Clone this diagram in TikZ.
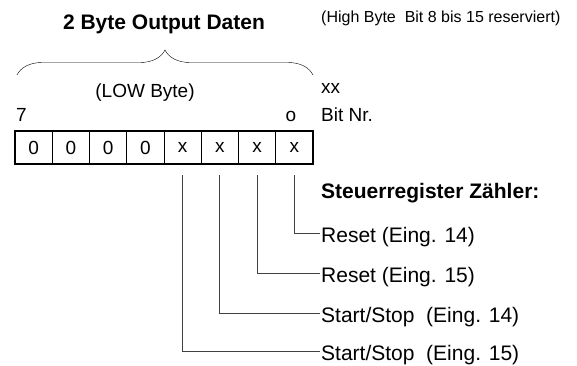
\documentclass[tikz,border=0pt]{standalone}
\usepackage{fontspec}
\setmainfont{Liberation Sans}
\usetikzlibrary{decorations.pathreplacing}
\tikzset{cell/.style={draw,minimum width=37.25pt,minimum height=33pt,inner sep=0pt,line width=0.8pt,font=\fontsize{19}{22}\selectfont},
  lab/.style={anchor=west,inner sep=1.5pt,text height=19pt,text depth=0pt,font=\fontsize{21}{25}\selectfont},
  lead/.style={line width=0.8pt,black!75}}

\begin{document}
\begin{tikzpicture}[x=1pt,y=-1pt,
 sm/.style={font=\fontsize{19}{22}\selectfont,inner sep=0pt}]
\useasboundingbox (0,0) rectangle (577,365);
\node[font=\fontsize{21}{25}\selectfont\bfseries,anchor=base] (title) at (164,29) {2 Byte Output Daten};
\node[font=\fontsize{16}{19}\selectfont,anchor=base west,inner sep=0pt] (high) at (321,22) {(High Byte\ \ Bit 8 bis 15 reserviert)};
\draw[decorate,decoration={brace,amplitude=25pt}] (17,75) -- (313,75);
\node[sm,anchor=base] (low) at (145,97) {(LOW Byte)};
\node[sm,anchor=base west] (xx) at (321,93) {xx};
\node[sm,anchor=base] (n7) at (21.5,121) {7};
\node[sm,anchor=base] (n0) at (291,121) {o};
\node[sm,anchor=base west] (bitnr) at (321,121) {Bit Nr.};
% register cells, bit 7 left
\foreach \v/\b in {0/7,0/6,0/5,0/4,x/3,x/2,x/1,x/0}
  \node[cell] (b\b) at (294.375-37.25*\b,147.5) {\v};
\draw[line width=2pt] (b7.north west) rectangle (b0.south east);
\node[lab,font=\fontsize{21}{25}\selectfont\bfseries] (head) at (319.5,188.5) {Steuerregister Zähler:};
\node[lab] (rst14) at (319.5,233) {Reset (Eing. 14)};
\node[lab] (rst15) at (319.5,273) {Reset (Eing. 15)};
\node[lab] (ss14) at (319.5,313) {Start/Stop\ \ (Eing. 14)};
\node[lab] (ss15) at (319.5,351) {Start/Stop\ \ (Eing. 15)};
\draw[lead] ([yshift=-11pt]b0.south) |- (rst14.west);
\draw[lead] ([yshift=-11pt]b1.south) |- (rst15.west);
\draw[lead] ([yshift=-11pt]b2.south) |- (ss14.west);
\draw[lead] ([yshift=-11pt]b3.south) |- (ss15.west);
\end{tikzpicture}
\end{document}
